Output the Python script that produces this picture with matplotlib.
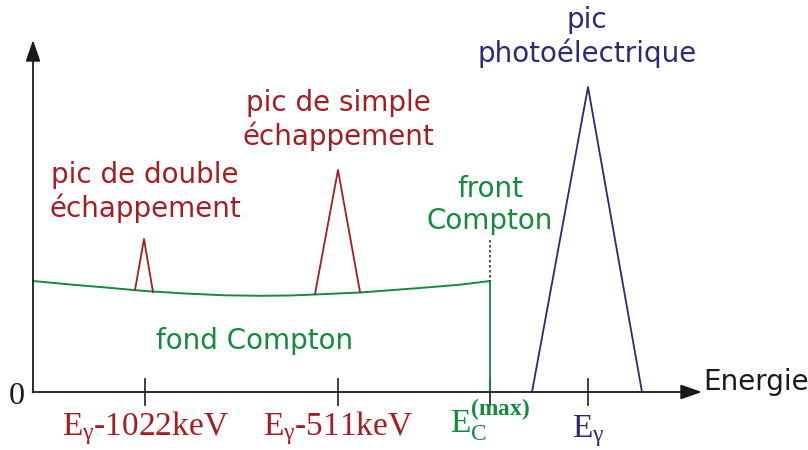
import numpy as np
import matplotlib.pyplot as plt

# positions in the drawing units (pixel-like energy / height scale)
tick_pos = [145, 338, 490, 588]
tick_labels = [r'E$_{\mathrm{γ}}$-1022keV', r'E$_{\mathrm{γ}}$-511keV',
               r'E$_{\mathrm{C}}^{\mathbf{(max)}}$', r'E$_{\mathrm{γ}}$']
label_base = [435, 435, 433, 437]

# fond Compton
fond_x = [33, 70, 100, 145, 185, 225, 260, 290, 315, 360, 420, 460, 490]
fond_y = [281, 284.5, 287, 291, 293.5, 295.3, 295.8, 295.5, 294.5, 292.5, 288, 284.7, 281]

# pics : base gauche, sommet, base droite
double_x = [135, 144, 153]
double_y = [290, 239, 292]
simple_x = [315, 338, 360]
simple_y = [294, 170, 292]
photo_x = [532, 588, 642]
photo_y = [392, 87, 392]

front_x = 490
front_top = 240

rouge = '#a51d22'
vert = '#138a3c'
bleu = '#2b2a78'

plt.rcParams['mathtext.fontset'] = 'custom'
plt.rcParams['mathtext.rm'] = 'Liberation Serif'
plt.rcParams['mathtext.bf'] = 'Liberation Serif:bold'
plt.rcParams['mathtext.it'] = 'Liberation Serif:italic'

fig = plt.figure(figsize=(8.08, 4.5), dpi=100)
ax = fig.add_axes([0, 0, 1, 1])
ax.set_xlim(0, 808)
ax.set_ylim(450, 0)
ax.axis('off')

y0 = 392
# axes avec fleches
ax.annotate('', xy=(33, 40), xytext=(33, y0 + 0.5),
            arrowprops=dict(arrowstyle='-|>,head_length=1.3,head_width=0.45',
                            color='#1a1a1a', lw=1.3, shrinkA=0, shrinkB=0))
ax.annotate('', xy=(702, y0), xytext=(32.5, y0),
            arrowprops=dict(arrowstyle='-|>,head_length=1.3,head_width=0.45',
                            color='#1a1a1a', lw=1.3, shrinkA=0, shrinkB=0))

# graduations
for x in tick_pos:
    ax.plot([x, x], [379, 405], color='#333333', lw=1.3)
c_ticks = [rouge, rouge, vert, bleu]
for x, lab, c, yb in zip(tick_pos, tick_labels, c_ticks, label_base):
    ax.text(x, yb, lab, color=c, fontsize=24, family='Liberation Serif',
            ha='center', va='baseline')
ax.text(17, 396, '0', fontsize=23, family='Liberation Serif', ha='center',
        va='center', color='#1a1a1a')
ax.text(703, 382, 'Energie', fontsize=20, ha='left', va='center', color='#1a1a1a')

# fond Compton et front
ax.plot(fond_x, fond_y, color=vert, lw=1.4)
ax.plot([front_x, front_x], [fond_y[-1], y0], color=vert, lw=1.3)
ax.plot([front_x, front_x], [front_top, fond_y[-1]], color='#333333', lw=1.2,
        ls=(0, (1.5, 1.5)))

# pics
ax.plot(double_x, double_y, color=rouge, lw=1.3)
ax.plot(simple_x, simple_y, color=rouge, lw=1.3)
ax.plot(photo_x, photo_y, color=bleu, lw=1.3)

# textes
ax.text(145, 192, 'pic de double\néchappement', color=rouge, fontsize=20,
        ha='center', va='center', linespacing=1.15)
ax.text(338, 120, 'pic de simple\néchappement', color=rouge, fontsize=20,
        ha='center', va='center', linespacing=1.15)
ax.text(490, 205, 'front\nCompton', color=vert, fontsize=20,
        ha='center', va='center', linespacing=1.15)
ax.text(255, 341, 'fond Compton', color=vert, fontsize=20,
        ha='center', va='center')
ax.text(587, 37, 'pic\nphotoélectrique', color=bleu, fontsize=20,
        ha='center', va='center', linespacing=1.15)

fig.savefig('out.png', dpi=100)
